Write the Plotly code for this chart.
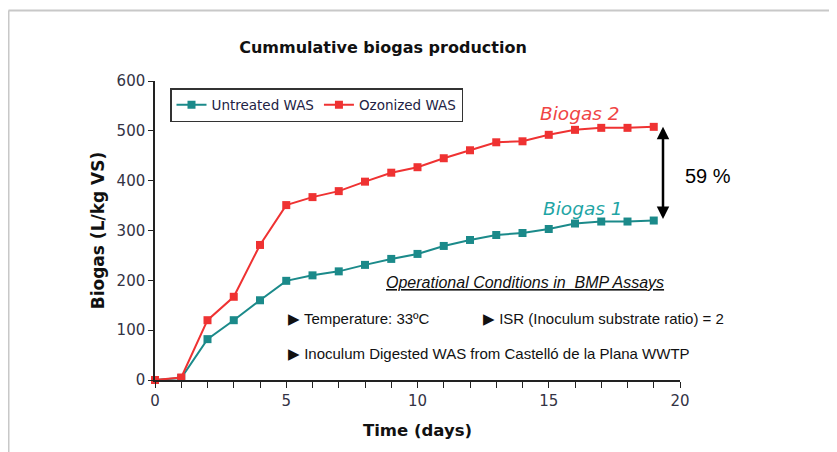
import plotly.graph_objects as go

days = list(range(0, 20))
untreated = [0, 4, 82, 120, 160, 199, 210, 218, 231, 243, 253, 269, 281, 291, 295, 303, 314, 318, 318, 320]
ozonized = [0, 5, 120, 167, 271, 351, 367, 379, 398, 416, 427, 445, 461, 477, 479, 492, 502, 506, 506, 508]
x_ticks = list(range(0, 21))
x_ticklabels = [str(v) if v % 5 == 0 else "" for v in x_ticks]
y_ticks = [0, 100, 200, 300, 400, 500, 600]

TEAL = "#1b8a8a"
RED = "#ef3232"

OFF = 8  # page body margin
W, H = 837 - OFF, 452 - OFF
# plot area in page pixels
PL, PR, PT, PB = 155, 680, 81, 380
L, R, T, B = PL - OFF, PR - OFF, PT - OFF, PB - OFF


def px(xp):
    return (xp - PL) / (PR - PL)


def py(yp):
    return (PB - yp) / (PB - PT)


fig = go.Figure()
fig.add_trace(go.Scatter(x=days, y=untreated, mode="lines+markers", name="Untreated WAS",
                         line=dict(color=TEAL, width=2),
                         marker=dict(symbol="square", size=8, color=TEAL), cliponaxis=False))
fig.add_trace(go.Scatter(x=days, y=ozonized, mode="lines+markers", name="Ozonized WAS",
                         line=dict(color=RED, width=2),
                         marker=dict(symbol="square", size=8, color=RED), cliponaxis=False))

axis_font = dict(family="DejaVu Sans", size=15, color="#333344")
fig.update_layout(
    width=W, height=H,
    margin=dict(l=L, r=W - R, t=T, b=H - B, pad=0),
    paper_bgcolor="white", plot_bgcolor="white",
    title=dict(text="<b>Cummulative biogas production</b>", x=(383 - OFF) / W, xanchor="center",
               y=1 - (47 - OFF) / H, yanchor="middle",
               font=dict(family="DejaVu Sans", size=16, color="#111111")),
    xaxis=dict(range=[0, 20], tickvals=x_ticks, ticktext=x_ticklabels, ticks="outside",
               ticklen=6, tickcolor="#222222", showline=True, linecolor="#222222", linewidth=1.5,
               showgrid=False, zeroline=False, tickfont=axis_font,
               title=dict(text="<b>Time (days)</b>", standoff=16,
                          font=dict(family="DejaVu Sans", size=16.5, color="#111111"))),
    yaxis=dict(range=[0, 600], tickvals=y_ticks, ticks="outside", ticklen=5,
               tickcolor="#222222", showline=True, linecolor="#222222", linewidth=1.5,
               showgrid=False, zeroline=False, tickfont=axis_font,
               title=dict(text="<b>Biogas (L/kg VS)</b>", standoff=8,
                          font=dict(family="DejaVu Sans", size=17, color="#111111"))),
    legend=dict(orientation="h", x=px(170), y=py(88), xanchor="left", yanchor="top",
                bordercolor="#333333", borderwidth=1.5, bgcolor="white",
                font=dict(family="DejaVu Sans", size=13.5, color="#222244"),
                itemwidth=30, tracegroupgap=0),
    showlegend=True,
)

# outer light gray frame (top and left)
fig.add_shape(type="line", xref="paper", yref="paper", x0=px(8.5), x1=px(845), y0=py(10.5), y1=py(10.5),
              line=dict(color="#c8c8c8", width=2))
fig.add_shape(type="line", xref="paper", yref="paper", x0=px(8.5), x1=px(8.5), y0=py(10.5), y1=py(460),
              line=dict(color="#c8c8c8", width=2))


def note(xp, yp, text, font, xanchor="center"):
    fig.add_annotation(x=px(xp), y=py(yp), xref="paper", yref="paper", text=text,
                       xanchor=xanchor, yanchor="middle", showarrow=False, font=font)


# labels
note(580, 113, "<i>Biogas 2</i>", dict(family="DejaVu Sans", size=18.5, color="#f04444"))
note(583, 208, "<i>Biogas 1</i>", dict(family="DejaVu Sans", size=18.5, color="#1fa5a5"))

# double arrow between final values
arrow_x = (663 - PL) / (PR - PL) * 20
fig.add_annotation(x=arrow_x, y=ozonized[-1], ax=arrow_x, ay=untreated[-1], xref="x", yref="y",
                   axref="x", ayref="y", text="", showarrow=True, arrowhead=2, startarrowhead=2,
                   arrowside="end+start", arrowwidth=2.5, arrowsize=1, arrowcolor="black")
note(708, 176, "59 %", dict(family="Liberation Sans", size=20, color="black"))

txt_font = dict(family="Liberation Sans", size=15, color="#111111")
note(525, 282, "<i><u>Operational Conditions in&nbsp; BMP Assays</u></i>",
     dict(family="Liberation Sans", size=16, color="#111111"))
note(286, 318, "▶ Temperature: 33ºC", txt_font, "left")
note(481, 318, "▶ ISR (Inoculum substrate ratio) = 2", txt_font, "left")
note(286, 353, "▶ Inoculum Digested WAS from Castelló de la Plana WWTP", txt_font, "left")

fig.write_html("out.html")
